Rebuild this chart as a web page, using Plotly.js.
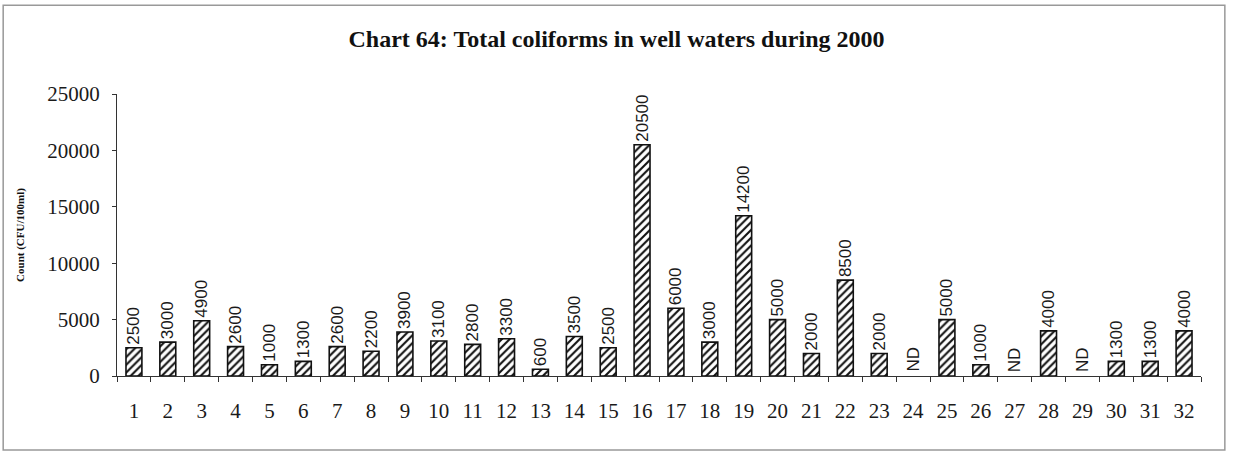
<!DOCTYPE html>
<html>
<head>
<meta charset="utf-8">
<script src="https://cdn.plot.ly/plotly-3.0.1.min.js"></script>
<style>
html,body{margin:0;padding:0;background:#fff;}
#chart{width:1233px;height:454px;}
</style>
</head>
<body>
<div id="chart"></div>
<script>
// Data
const wells = ["1","2","3","4","5","6","7","8","9","10","11","12","13","14","15","16","17","18","19","20","21","22","23","24","25","26","27","28","29","30","31","32"];
const counts = [2500,3000,4900,2600,1000,1300,2600,2200,3900,3100,2800,3300,600,3500,2500,20500,6000,3000,14200,5000,2000,8500,2000,null,5000,1000,null,4000,null,1300,1300,4000];
const ndLabel = "ND";
const yTicks = [0,5000,10000,15000,20000,25000];

const barText = counts.map(v => v === null ? "" : String(v));

const trace = {
  type: "bar",
  x: wells,
  y: counts,
  text: barText,
  textposition: "outside",
  textangle: -90,
  constraintext: "none",
  cliponaxis: false,
  textfont: {family: "Liberation Sans, Arial, sans-serif", size: 17, color: "#1a1a1a"},
  marker: {
    color: "white",
    line: {color: "#111", width: 1.6},
    pattern: {shape: "/", fgcolor: "#111", bgcolor: "white", size: 5.5, solidity: 0.38}
  },
  hoverinfo: "x+y"
};

const ndAnnotations = [];
counts.forEach((v, i) => {
  if (v === null) {
    ndAnnotations.push({
      x: i, y: 0, xref: "x", yref: "y",
      text: ndLabel, showarrow: false, textangle: -90,
      yanchor: "bottom", xanchor: "center", yshift: 2,
      font: {family: "Liberation Sans, Arial, sans-serif", size: 17, color: "#1a1a1a"}
    });
  }
});

const layout = {
  width: 1233, height: 454,
  paper_bgcolor: "white", plot_bgcolor: "white",
  margin: {l: 117, r: 32, t: 94, b: 78},
  showlegend: false,
  bargap: 0.53,
  title: {
    text: "<b>Chart 64: Total coliforms in well waters during 2000</b>",
    font: {family: "Liberation Serif, Times New Roman, serif", size: 24, color: "#111"},
    x: 0.5, xanchor: "center", xref: "container",
    y: 1, yref: "container", yanchor: "top", pad: {t: 30}
  },
  xaxis: {
    type: "category",
    showline: true, linecolor: "#333", linewidth: 1,
    ticks: "outside", tickson: "boundaries", ticklen: 5, tickcolor: "#333",
    showgrid: false, zeroline: false,
    tickfont: {family: "Liberation Serif, Times New Roman, serif", size: 21, color: "#1a1a1a"},
    ticklabelstandoff: 16
  },
  yaxis: {
    range: [0, 25000],
    tickvals: yTicks,
    ticktext: yTicks.map(String),
    showline: true, linecolor: "#333", linewidth: 1,
    ticks: "outside", ticklen: 4, tickcolor: "#333",
    showgrid: false, zeroline: false,
    tickfont: {family: "Liberation Serif, Times New Roman, serif", size: 21, color: "#1a1a1a"},
    ticklabelstandoff: 8,
    title: {
      text: "<b>Count (CFU/100ml)</b>",
      font: {family: "Liberation Serif, Times New Roman, serif", size: 11, color: "#111"},
      standoff: 20
    }
  },
  annotations: ndAnnotations,
  shapes: [{
    type: "rect", xref: "paper", yref: "paper",
    x0: -0.105, x1: 1.022, y0: -0.262, y1: 1.315,
    line: {color: "#999", width: 1.5}, fillcolor: "rgba(0,0,0,0)", layer: "below"
  }]
};

Plotly.newPlot("chart", [trace], layout, {displayModeBar: false, staticPlot: true});
</script>
</body>
</html>
